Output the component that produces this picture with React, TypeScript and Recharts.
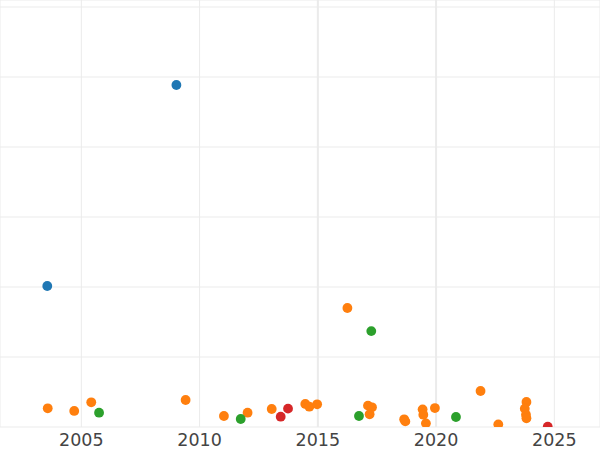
import React from "react";
import { ScatterChart, Scatter, XAxis, YAxis, CartesianGrid, ReferenceLine } from "recharts";

const xTicks = [2005, 2010, 2015, 2020, 2025];
const yTicks = [100, 200, 300, 400, 500, 600];

const blueYears = [2009.02, 2003.56];
const blueValues = [488.6, 201.4];

const orangeYears = [
  2016.25, 2003.58, 2004.7, 2005.42, 2009.41, 2011.03, 2012.03, 2013.05, 2014.47, 2014.64,
  2014.97, 2017.12, 2017.29, 2017.19, 2018.65, 2018.7, 2019.43, 2019.46, 2019.57, 2019.95,
  2021.88, 2022.63, 2023.82, 2023.75, 2023.8, 2023.82,
];
const orangeValues = [
  170, 26.7, 22.9, 35.3, 38.6, 15.7, 20.4, 25.7, 32.9, 29,
  32.4, 30.5, 28.1, 18.1, 11, 8, 25.2, 17.6, 5.2, 27.1,
  51.4, 3.8, 35.7, 26.2, 17.6, 12.5,
];

const greenYears = [2017.26, 2005.75, 2011.74, 2016.74, 2020.84];
const greenValues = [137, 20.4, 11.4, 15.7, 14.3];

const redYears = [2013.43, 2013.74, 2024.72];
const redValues = [14.7, 26.2, 0.5];

const toPoints = (xs: number[], ys: number[]) => xs.map((x, i) => ({ x, y: ys[i] }));

const dot = (color: string) => (props: any) => (
  <circle cx={props.cx} cy={props.cy} r={4.9} fill={color} />
);

export default function App() {
  return (
    <div style={{ position: "absolute", left: 0, top: 0 }}>
      <ScatterChart width={600} height={450} margin={{ top: 0, right: 0, bottom: 0, left: 0 }}>
        <CartesianGrid stroke="#ebebeb" strokeWidth={1} />
        <ReferenceLine x={2015} stroke="#ebebeb" strokeWidth={2} />
        <ReferenceLine x={2020} stroke="#ebebeb" strokeWidth={2} />
        <XAxis
          type="number"
          dataKey="x"
          domain={[2001.562, 2026.93]}
          ticks={xTicks}
          allowDataOverflow
          axisLine={false}
          tickLine={false}
          tickSize={0}
          tickMargin={7}
          height={23}
          tick={{ fill: "#444444", fontSize: 17.5, fontFamily: "DejaVu Sans" }}
        />
        <YAxis type="number" dataKey="y" domain={[0, 610]} ticks={yTicks} allowDataOverflow hide />
        <Scatter data={toPoints(blueYears, blueValues)} fill="#1f77b4" shape={dot("#1f77b4")} isAnimationActive={false} />
        <Scatter data={toPoints(orangeYears, orangeValues)} fill="#ff7f0e" shape={dot("#ff7f0e")} isAnimationActive={false} />
        <Scatter data={toPoints(greenYears, greenValues)} fill="#2ca02c" shape={dot("#2ca02c")} isAnimationActive={false} />
        <Scatter data={toPoints(redYears, redValues)} fill="#d62728" shape={dot("#d62728")} isAnimationActive={false} />
      </ScatterChart>
    </div>
  );
}
